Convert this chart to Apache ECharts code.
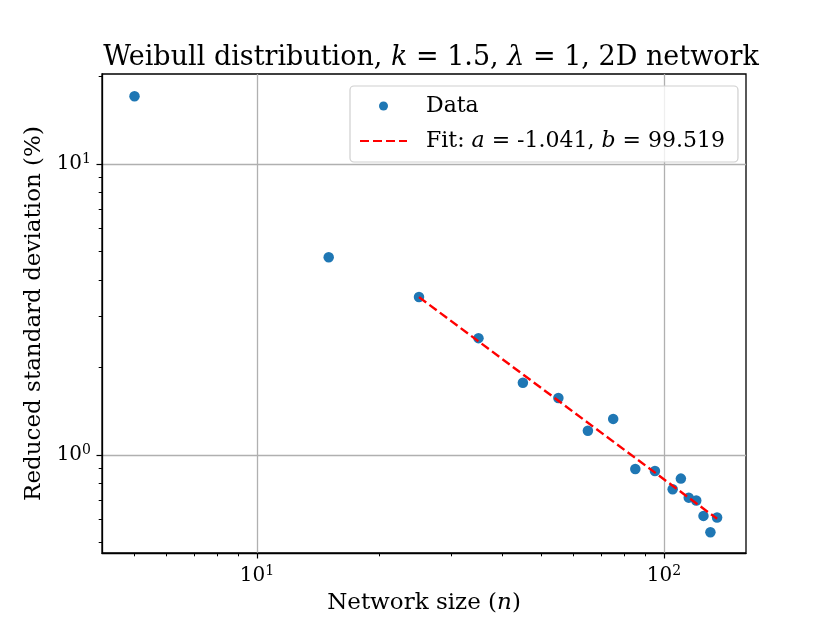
<!DOCTYPE html>
<html>
<head>
<meta charset="utf-8">
<script src="https://cdn.jsdelivr.net/npm/echarts@6/dist/echarts.min.js"></script>
<style>
  html, body { margin: 0; padding: 0; background: #fff; }
  #main { width: 830px; height: 623px; }
</style>
</head>
<body>
<div id="main"></div>
<script>
// network size n and reduced std deviation (%)
var sizes = [5, 15, 25, 35, 45, 55, 65, 75, 85, 95, 105, 110, 115, 120, 125, 130, 135];
var stdDev = [17.1, 4.78, 3.49, 2.52, 1.77, 1.57, 1.21, 1.33, 0.895, 0.881, 0.762, 0.829, 0.713, 0.697, 0.617, 0.542, 0.609];

// fit y = b * n^a, drawn between its end points
var fitX = [25, 135];
var fitY = [3.488, 0.603];

var xMajor = [10, 100];
var xMinor = [5, 6, 7, 8, 9, 20, 30, 40, 50, 60, 70, 80, 90];
var yMajor = [1, 10];
var yMinor = [0.5, 0.6, 0.7, 0.8, 0.9, 2, 3, 4, 5, 6, 7, 8, 9, 20];

var FONT = 'DejaVu Serif';
var xRange = [4.16, 159];
var yRange = [0.46, 20.4];

function powLabel(v) {
    var e = Math.round(Math.log10(v));
    return '{b|10}{s|' + e + '}';
}
var labelRich = {
    b: { fontFamily: FONT, fontSize: 20, color: '#000' },
    s: { fontFamily: FONT, fontSize: 14, color: '#000', padding: [0, 0, 9, 0] }
};

var chart = echarts.init(document.getElementById('main'));
chart.setOption({
    animation: false,
    backgroundColor: '#fff',
    title: {
        text: '{n|Weibull distribution, }{i|k}{n| = 1.5, }{i|λ}{n| = 1, 2D network}',
        left: 426,
        textAlign: 'center',
        top: 39,
        textStyle: {
            fontFamily: FONT, fontSize: 27, fontWeight: 'normal', color: '#000',
            rich: {
                n: { fontFamily: FONT, fontSize: 27, color: '#000' },
                i: { fontFamily: FONT, fontSize: 27, color: '#000', fontStyle: 'italic' }
            }
        }
    },
    grid: {
        left: 102, right: 84, top: 74, bottom: 70,
        show: true, borderColor: '#000', borderWidth: 1.3
    },
    legend: {
        orient: 'vertical',
        left: 350,
        top: 86,
        padding: [9, 13, 10, 9],
        itemGap: 13,
        itemWidth: 47,
        itemHeight: 9,
        borderColor: '#cfcfcf',
        borderWidth: 1.2,
        borderRadius: 4,
        backgroundColor: 'rgba(255,255,255,0.8)',
        data: [
            { name: 'Data', icon: 'circle' },
            { name: 'Fit', itemStyle: { opacity: 0, color: 'rgba(0,0,0,0)', borderWidth: 0 } }
        ],
        formatter: function (name) {
            if (name === 'Data') return '{n|Data}';
            return '{n|Fit: }{i|a}{m| = -1.041, }{i|b}{m| = 99.519}';
        },
        textStyle: {
            fontFamily: FONT, fontSize: 22, color: '#000',
            rich: {
                n: { fontFamily: FONT, fontSize: 22, lineHeight: 26, color: '#000', padding: [0, 0, 0, 14] },
                m: { fontFamily: FONT, fontSize: 22, lineHeight: 26, color: '#000' },
                i: { fontFamily: FONT, fontSize: 22, lineHeight: 26, color: '#000', fontStyle: 'italic' }
            }
        }
    },
    xAxis: [{
        type: 'log',
        min: xRange[0], max: xRange[1],
        name: 'Network size ({i|n})',
        nameLocation: 'middle',
        nameGap: 39,
        nameTextStyle: {
            fontFamily: FONT, fontSize: 23, color: '#000',
            rich: { i: { fontFamily: FONT, fontSize: 23, color: '#000', fontStyle: 'italic' } }
        },
        axisLine: { show: true, onZero: false, lineStyle: { color: '#000', width: 1.3 } },
        axisTick: { show: true, inside: false, length: 5.5, customValues: xMajor, lineStyle: { color: '#000', width: 1.2 } },
        axisLabel: { customValues: xMajor, margin: 11, formatter: powLabel, rich: labelRich },
        splitLine: { show: true, lineStyle: { color: '#b0b0b0', width: 1.3 } }
    }, {
        type: 'log',
        min: xRange[0], max: xRange[1],
        position: 'bottom',
        axisLine: { show: false, onZero: false },
        axisTick: { show: true, inside: false, length: 3.3, customValues: xMinor, lineStyle: { color: '#000', width: 1 } },
        axisLabel: { show: false },
        splitLine: { show: false }
    }],
    yAxis: [{
        type: 'log',
        min: yRange[0], max: yRange[1],
        name: 'Reduced standard deviation (%)',
        nameLocation: 'middle',
        nameRotate: 90,
        nameGap: 56,
        nameTextStyle: { fontFamily: FONT, fontSize: 23, color: '#000' },
        axisLine: { show: true, onZero: false, lineStyle: { color: '#000', width: 1.3 } },
        axisTick: { show: true, inside: false, length: 5.5, customValues: yMajor, lineStyle: { color: '#000', width: 1.2 } },
        axisLabel: { customValues: yMajor, margin: 11, formatter: powLabel, rich: labelRich },
        splitLine: { show: true, lineStyle: { color: '#b0b0b0', width: 1.3 } }
    }, {
        type: 'log',
        min: yRange[0], max: yRange[1],
        position: 'left',
        axisLine: { show: false, onZero: false },
        axisTick: { show: true, inside: false, length: 3.3, customValues: yMinor, lineStyle: { color: '#000', width: 1 } },
        axisLabel: { show: false },
        splitLine: { show: false }
    }],
    series: [{
        name: 'Data',
        type: 'scatter',
        symbol: 'circle',
        symbolSize: 10.5,
        itemStyle: { color: '#1f77b4', opacity: 1 },
        data: sizes.map(function (n, i) { return [n, stdDev[i]]; }),
        z: 3
    }, {
        name: 'Fit',
        type: 'line',
        symbol: 'none',
        lineStyle: { color: 'red', width: 2.4, type: [9, 4] },
        itemStyle: { color: 'red' },
        data: fitX.map(function (n, i) { return [n, fitY[i]]; }),
        z: 4
    }]
});
</script>
</body>
</html>
